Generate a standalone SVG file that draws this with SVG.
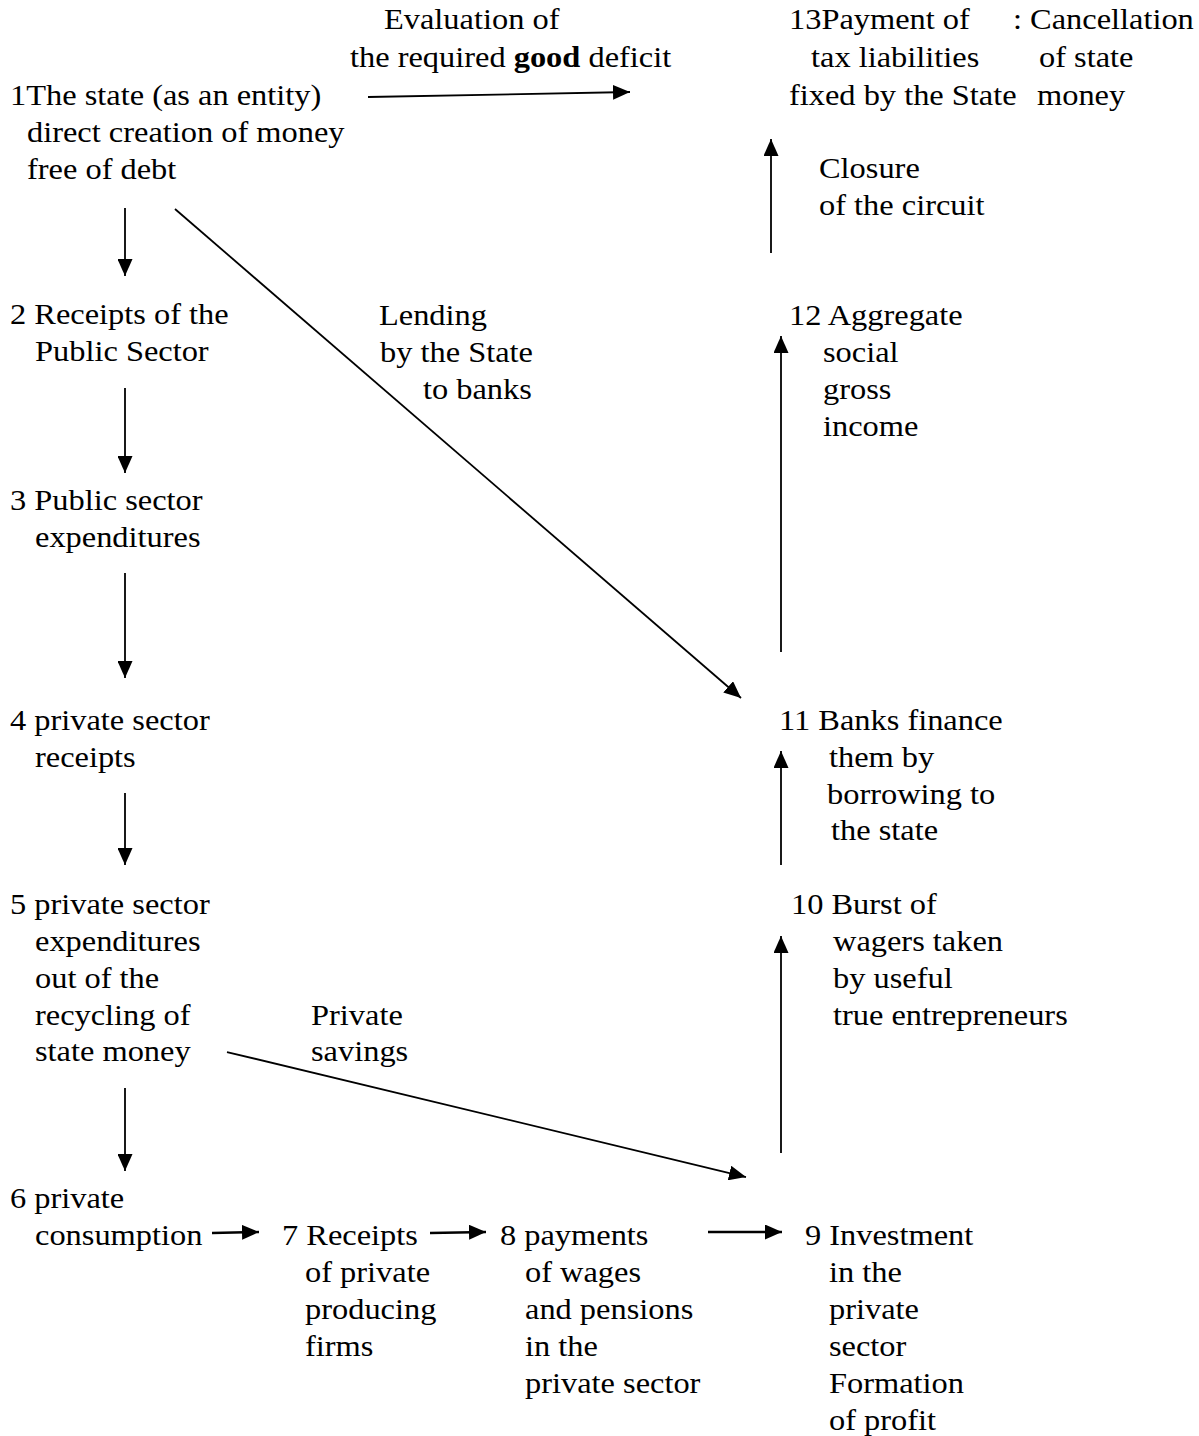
<svg xmlns="http://www.w3.org/2000/svg" width="1199" height="1436" viewBox="0 0 1199 1436">
<style>
text{font-family:"Liberation Serif","Times New Roman",serif;font-size:30px;fill:#000}
.c{stroke:#000;stroke-width:1.8;fill:none;marker-end:url(#ah)}
.t{stroke-width:2.4}
</style>
<defs>
<marker id="ah" markerUnits="userSpaceOnUse" markerWidth="18" markerHeight="15" refX="17" refY="7.5" orient="auto">
<path d="M0,0 L17,7.5 L0,15 z" fill="#000"/>
</marker>
</defs>
<rect width="1199" height="1436" fill="#fff"/>
<g id="connectors">
<line class="c" x1="368" y1="97" x2="630" y2="92"/>
<line class="c" x1="125" y1="208" x2="125" y2="276"/>
<line class="c" x1="175" y1="209" x2="741" y2="698"/>
<line class="c" x1="125" y1="388" x2="125" y2="473"/>
<line class="c" x1="125" y1="573" x2="125" y2="678"/>
<line class="c" x1="125" y1="793" x2="125" y2="865"/>
<line class="c" x1="125" y1="1088" x2="125" y2="1171"/>
<line class="c" x1="227" y1="1052" x2="746" y2="1177"/>
<line class="c t" x1="212" y1="1233" x2="259" y2="1232"/>
<line class="c t" x1="430" y1="1233" x2="486" y2="1232"/>
<line class="c t" x1="708" y1="1232" x2="782" y2="1232"/>
<line class="c" x1="781" y1="1153" x2="781" y2="936"/>
<line class="c" x1="781" y1="865" x2="781" y2="751"/>
<line class="c" x1="781" y1="652" x2="781" y2="336"/>
<line class="c" x1="771" y1="253" x2="771" y2="139"/>
</g>
<g id="n1">
<text transform="matrix(1.08,0,0,1,10,105)">1The state (as an entity)</text>
<text transform="matrix(1.08,0,0,1,27,142)">direct creation of money</text>
<text transform="matrix(1.08,0,0,1,27,179)">free of debt</text>
</g>
<g id="l-eval">
<text transform="matrix(1.08,0,0,1,384,29)">Evaluation of</text>
<text transform="matrix(1.08,0,0,1,350,67)">the required <tspan font-weight="bold">good</tspan> deficit</text>
</g>
<g id="n13">
<text transform="matrix(1.08,0,0,1,789,29)">13Payment of</text>
<text transform="matrix(1.08,0,0,1,811,67)">tax liabilities</text>
<text transform="matrix(1.08,0,0,1,789,105)">fixed by the State</text>
<text transform="matrix(1.08,0,0,1,1013,29)">: Cancellation</text>
<text transform="matrix(1.08,0,0,1,1039,67)">of state</text>
<text transform="matrix(1.08,0,0,1,1037,105)">money</text>
</g>
<g id="l-closure">
<text transform="matrix(1.08,0,0,1,819,178)">Closure</text>
<text transform="matrix(1.08,0,0,1,819,215)">of the circuit</text>
</g>
<g id="n2">
<text transform="matrix(1.08,0,0,1,10,324)">2 Receipts of the</text>
<text transform="matrix(1.08,0,0,1,35,361)">Public Sector</text>
</g>
<g id="l-lending">
<text transform="matrix(1.08,0,0,1,379,325)">Lending</text>
<text transform="matrix(1.08,0,0,1,380,362)">by the State</text>
<text transform="matrix(1.08,0,0,1,423,399)">to banks</text>
</g>
<g id="n12">
<text transform="matrix(1.08,0,0,1,789,325)">12 Aggregate</text>
<text transform="matrix(1.08,0,0,1,823,362)">social</text>
<text transform="matrix(1.08,0,0,1,823,399)">gross</text>
<text transform="matrix(1.08,0,0,1,823,436)">income</text>
</g>
<g id="n3">
<text transform="matrix(1.08,0,0,1,10,510)">3 Public sector</text>
<text transform="matrix(1.08,0,0,1,35,547)">expenditures</text>
</g>
<g id="n4">
<text transform="matrix(1.08,0,0,1,10,730)">4 private sector</text>
<text transform="matrix(1.08,0,0,1,35,767)">receipts</text>
</g>
<g id="n11">
<text transform="matrix(1.08,0,0,1,779,730)">11 Banks finance</text>
<text transform="matrix(1.08,0,0,1,829,767)">them by</text>
<text transform="matrix(1.08,0,0,1,827,804)">borrowing to</text>
<text transform="matrix(1.08,0,0,1,831,840)">the state</text>
</g>
<g id="n5">
<text transform="matrix(1.08,0,0,1,10,914)">5 private sector</text>
<text transform="matrix(1.08,0,0,1,35,951)">expenditures</text>
<text transform="matrix(1.08,0,0,1,35,988)">out of the</text>
<text transform="matrix(1.08,0,0,1,35,1025)">recycling of</text>
<text transform="matrix(1.08,0,0,1,35,1061)">state money</text>
</g>
<g id="l-savings">
<text transform="matrix(1.08,0,0,1,311,1025)">Private</text>
<text transform="matrix(1.08,0,0,1,311,1061)">savings</text>
</g>
<g id="n10">
<text transform="matrix(1.08,0,0,1,791,914)">10 Burst of</text>
<text transform="matrix(1.08,0,0,1,833,951)">wagers taken</text>
<text transform="matrix(1.08,0,0,1,833,988)">by useful</text>
<text transform="matrix(1.08,0,0,1,833,1025)">true entrepreneurs</text>
</g>
<g id="n6">
<text transform="matrix(1.08,0,0,1,10,1208)">6 private</text>
<text transform="matrix(1.08,0,0,1,35,1245)">consumption</text>
</g>
<g id="n7">
<text transform="matrix(1.08,0,0,1,282,1245)">7 Receipts</text>
<text transform="matrix(1.08,0,0,1,305,1282)">of private</text>
<text transform="matrix(1.08,0,0,1,305,1319)">producing</text>
<text transform="matrix(1.08,0,0,1,305,1356)">firms</text>
</g>
<g id="n8">
<text transform="matrix(1.08,0,0,1,500,1245)">8 payments</text>
<text transform="matrix(1.08,0,0,1,525,1282)">of wages</text>
<text transform="matrix(1.08,0,0,1,525,1319)">and pensions</text>
<text transform="matrix(1.08,0,0,1,525,1356)">in the</text>
<text transform="matrix(1.08,0,0,1,525,1393)">private sector</text>
</g>
<g id="n9">
<text transform="matrix(1.08,0,0,1,805,1245)">9 Investment</text>
<text transform="matrix(1.08,0,0,1,829,1282)">in the</text>
<text transform="matrix(1.08,0,0,1,829,1319)">private</text>
<text transform="matrix(1.08,0,0,1,829,1356)">sector</text>
<text transform="matrix(1.08,0,0,1,829,1393)">Formation</text>
<text transform="matrix(1.08,0,0,1,829,1430)">of profit</text>
</g>
</svg>
